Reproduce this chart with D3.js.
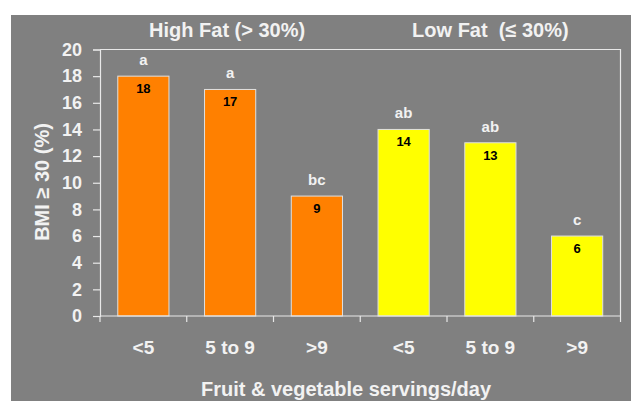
<!DOCTYPE html>
<html>
<head>
<meta charset="utf-8">
<script src="https://cdn.jsdelivr.net/npm/d3@7"></script>
<style>
  body { margin: 0; background: #fff; }
  svg text { font-family: "Liberation Sans", Arial, sans-serif; font-weight: bold; white-space: pre; }
</style>
</head>
<body>
<svg id="chart" width="631" height="401"></svg>
<script>
// data
const categories = ["<5", "5 to 9", ">9", "<5 ", "5 to 9 ", ">9 "];
const values = [18, 17, 9, 14, 13, 6];
const letters = ["a", "a", "bc", "ab", "ab", "c"];
const groups = ["High Fat (> 30%)", "Low Fat  (\u2264 30%)"];
const groupOf = [0, 0, 0, 1, 1, 1];
const groupColors = ["#ff8000", "#ffff00"];
const yTicks = [0, 2, 4, 6, 8, 10, 12, 14, 16, 18, 20];

const svg = d3.select("#chart");
const margin = { top: 49.5, right: 10.5, bottom: 85, left: 100 };
const W = 631, H = 401;
const txt = "#f2f2f2";

// gray background
svg.append("rect")
  .attr("x", 11).attr("y", 15)
  .attr("width", W - 11).attr("height", H - 15)
  .attr("fill", "#808080");

const x = d3.scaleBand()
  .domain(categories)
  .range([margin.left, W - margin.right])
  .paddingInner(0.41)
  .paddingOuter(0.205);

const y = d3.scaleLinear()
  .domain([0, 20])
  .range([H - margin.bottom, margin.top]);

// plot frame (top + right)
svg.append("path")
  .attr("d", `M${margin.left},${margin.top}H${W - margin.right}V${H - margin.bottom}`)
  .attr("fill", "none")
  .attr("stroke", "#e8e8e8")
  .attr("stroke-width", 1.2);

// bars
svg.selectAll(".bar")
  .data(values)
  .enter()
  .append("rect")
  .attr("class", "bar")
  .attr("x", (d, i) => x(categories[i]))
  .attr("y", (d) => y(d))
  .attr("width", x.bandwidth())
  .attr("height", (d) => y(0) - y(d))
  .attr("fill", (d, i) => groupColors[groupOf[i]])
  .attr("stroke", "#e0e0e0")
  .attr("stroke-width", 1);

// value labels inside bars
svg.selectAll(".val")
  .data(values)
  .enter()
  .append("text")
  .attr("x", (d, i) => x(categories[i]) + x.bandwidth() / 2)
  .attr("y", (d) => y(d) + 17)
  .attr("text-anchor", "middle")
  .attr("font-size", 13)
  .attr("fill", "#000")
  .text((d) => d);

// significance letters above bars
svg.selectAll(".letter")
  .data(values)
  .enter()
  .append("text")
  .attr("x", (d, i) => x(categories[i]) + x.bandwidth() / 2)
  .attr("y", (d) => y(d) - 11)
  .attr("text-anchor", "middle")
  .attr("font-size", 15)
  .attr("fill", txt)
  .text((d, i) => letters[i]);

// y axis
const yAxis = svg.append("g")
  .attr("transform", `translate(${margin.left},0)`)
  .call(d3.axisLeft(y).tickValues(yTicks).tickSize(7).tickPadding(11));
yAxis.selectAll("text").attr("font-size", 18).attr("fill", txt)
  .style("font-family", '"Liberation Sans", Arial, sans-serif').style("font-weight", "bold");
yAxis.selectAll("path, line").attr("stroke", "#e8e8e8").attr("stroke-width", 1.2);

// x axis: ticks at band edges
const xAxis = svg.append("g")
  .attr("transform", `translate(0,${y(0)})`);
const edges = categories.map((c) => x(c) - x.step() * x.paddingInner() / 2);
edges.push(W - margin.right);
xAxis.append("line")
  .attr("x1", margin.left).attr("x2", W - margin.right)
  .attr("y1", 0).attr("y2", 0);
xAxis.selectAll(".tick")
  .data(edges)
  .enter()
  .append("line")
  .attr("x1", (d) => d).attr("x2", (d) => d)
  .attr("y1", 0).attr("y2", 6);
xAxis.selectAll("line").attr("stroke", "#e8e8e8").attr("stroke-width", 1.2);
xAxis.selectAll(".xl")
  .data(categories)
  .enter()
  .append("text")
  .attr("x", (d) => x(d) + x.bandwidth() / 2)
  .attr("y", 38)
  .attr("text-anchor", "middle")
  .attr("font-size", 19)
  .attr("fill", txt)
  .text((d) => d.trim());

// group titles
const groupCenter = (g) => {
  const idx = groupOf.map((v, i) => (v === g ? i : -1)).filter((i) => i >= 0);
  const first = x(categories[idx[0]]);
  const last = x(categories[idx[idx.length - 1]]) + x.bandwidth();
  return (first + last) / 2;
};
svg.selectAll(".grp")
  .data(groups)
  .enter()
  .append("text")
  .attr("x", (d, i) => groupCenter(i) - (i === 0 ? 3 : 0))
  .attr("y", 37)
  .attr("text-anchor", "middle")
  .attr("font-size", 20)
  .attr("fill", txt)
  .text((d) => d);

// axis titles
svg.append("text")
  .attr("x", 346)
  .attr("y", 395.5)
  .attr("text-anchor", "middle")
  .attr("font-size", 20)
  .attr("fill", txt)
  .text("Fruit & vegetable servings/day");

svg.append("text")
  .attr("transform", "translate(49,182) rotate(-90)")
  .attr("text-anchor", "middle")
  .attr("font-size", 20)
  .attr("fill", txt)
  .text("BMI \u2265 30 (%)");
</script>
</body>
</html>
